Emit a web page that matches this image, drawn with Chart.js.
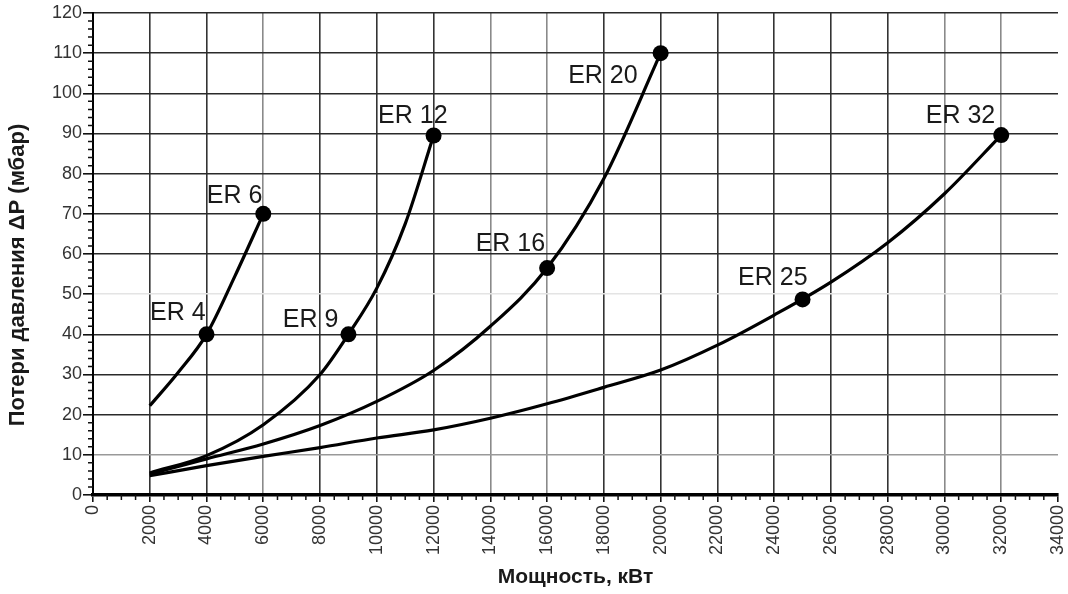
<!DOCTYPE html>
<html>
<head>
<meta charset="utf-8">
<script src="https://cdn.jsdelivr.net/npm/chart.js@4/dist/chart.umd.min.js"></script>
<style>
  html, body { margin: 0; padding: 0; background: #fff; }
  #wrap { width: 1068px; height: 594px; }
</style>
</head>
<body>
<div id="wrap"><canvas id="pressure"></canvas></div>
<script>
// ER 4 - ER 6
const curveA_power = [2000, 3000, 4000, 5000, 6000];
const curveA_loss = [22.2, 30.5, 40, 54.5, 70];
// ER 9 - ER 12
const curveB_power = [2000, 4000, 6000, 8000, 9000, 10000, 11000, 12000];
const curveB_loss = [5.5, 9.8, 17.5, 30, 40, 51.5, 67.5, 89.5];
// ER 16 - ER 20
const curveC_power = [2000, 4000, 6000, 8000, 10000, 12000, 14000, 16000, 18000, 20000];
const curveC_loss = [5.2, 9, 12.7, 17.3, 23.3, 31, 42, 56.5, 78.8, 110];
// ER 25 - ER 32
const curveD_power = [2000, 4000, 6000, 8000, 10000, 12000, 14000, 16000, 18000, 20000, 22000, 24000, 26000, 28000, 30000, 32000];
const curveD_loss = [4.8, 7.3, 9.6, 11.8, 14.2, 16.2, 19.1, 22.7, 26.8, 31.1, 37.3, 44.8, 53, 62.8, 75, 89.6];

// marked burners
const erNames = ['ER 4', 'ER 6', 'ER 9', 'ER 12', 'ER 16', 'ER 20', 'ER 25', 'ER 32'];
const erPower = [4000, 6000, 9000, 12000, 16000, 20000, 25000, 32000];
const erLoss = [40, 70, 40, 89.5, 56.5, 110, 48.7, 89.6];

const xTicks = [0, 2000, 4000, 6000, 8000, 10000, 12000, 14000, 16000, 18000, 20000, 22000, 24000, 26000, 28000, 30000, 32000, 34000];
const yTicks = [0, 10, 20, 30, 40, 50, 60, 70, 80, 90, 100, 110, 120];

const FONT = '"Liberation Sans", Arial, sans-serif';
const yTitle = 'Потери давления ΔP (мбар)';

const toPoints = (xs, ys) => xs.map((x, i) => ({ x: x, y: ys[i] }));

const curveStyle = {
  borderColor: '#000',
  borderWidth: 3.2,
  pointRadius: 0,
  fill: false,
  cubicInterpolationMode: 'monotone'
};

// label placement: right edge / baseline offset from the marker centre (px)
const labelOffsets = {
  'ER 4': [-1, -14], 'ER 6': [-1, -11], 'ER 9': [-10, -7], 'ER 12': [14, -13],
  'ER 16': [-2, -17], 'ER 20': [-23, 30], 'ER 25': [5, -14], 'ER 32': [-6, -12]
};

const erLabelPlugin = {
  id: 'erLabels',
  afterDatasetsDraw(chart) {
    const meta = chart.getDatasetMeta(4);
    const ctx = chart.ctx;
    ctx.save();
    ctx.font = '25px ' + FONT;
    ctx.fillStyle = '#1a1a1a';
    ctx.textAlign = 'right';
    ctx.textBaseline = 'alphabetic';
    meta.data.forEach((pt, i) => {
      const off = labelOffsets[erNames[i]];
      ctx.fillText(erNames[i], pt.x + off[0], pt.y + off[1]);
    });
    ctx.restore();
  }
};

// small ticks between the labelled ones + the y title
const extrasPlugin = {
  id: 'extras',
  afterDraw(chart) {
    const ctx = chart.ctx;
    const xs = chart.scales.x, ys = chart.scales.y;
    const area = chart.chartArea;
    ctx.save();
    ctx.strokeStyle = '#111';
    ctx.lineWidth = 1.5;
    ctx.beginPath();
    for (let v = 2; v < 120; v += 2) {
      if (v % 10 === 0) continue;
      const y = ys.getPixelForValue(v);
      ctx.moveTo(area.left - 5, y);
      ctx.lineTo(area.left, y);
    }
    for (let v = 500; v < 34000; v += 500) {
      if (v % 2000 === 0) continue;
      const x = xs.getPixelForValue(v);
      ctx.moveTo(x, area.bottom);
      ctx.lineTo(x, area.bottom + 5);
    }
    ctx.stroke();

    ctx.translate(18, 275);
    ctx.rotate(-Math.PI / 2);
    ctx.font = 'bold 22px ' + FONT;
    ctx.fillStyle = '#1a1a1a';
    ctx.textAlign = 'center';
    ctx.textBaseline = 'middle';
    ctx.fillText(yTitle, 0, 0);
    ctx.restore();
  }
};

const xGridColor = (c) => {
  const v = c.tick.value;
  if (v === 0 || v === 34000) return 'rgba(0,0,0,0)';
  if ([6000, 14000, 16000, 30000, 32000].includes(v)) return '#8a8a8a';
  return '#333';
};
const yGridColor = (c) => {
  const v = c.tick.value;
  if (v === 0) return 'rgba(0,0,0,0)';
  if (v === 50) return '#e4e4e4';
  if (v === 10) return '#999';
  return '#2a2a2a';
};

const tickFont = { family: FONT, size: 18 };

new Chart(document.getElementById('pressure'), {
  type: 'line',
  data: {
    datasets: [
      Object.assign({ data: toPoints(curveA_power, curveA_loss) }, curveStyle),
      Object.assign({ data: toPoints(curveB_power, curveB_loss) }, curveStyle),
      Object.assign({ data: toPoints(curveC_power, curveC_loss) }, curveStyle),
      Object.assign({ data: toPoints(curveD_power, curveD_loss) }, curveStyle),
      {
        type: 'scatter',
        data: toPoints(erPower, erLoss),
        showLine: false,
        pointRadius: 8,
        pointBackgroundColor: '#000',
        pointBorderColor: '#000',
        pointBorderWidth: 0
      }
    ]
  },
  options: {
    responsive: true,
    maintainAspectRatio: false,
    animation: false,
    layout: { padding: { top: 13, right: 10, left: 0, bottom: 0 } },
    plugins: { legend: { display: false }, tooltip: { enabled: false } },
    scales: {
      x: {
        type: 'linear',
        min: 0,
        max: 34000,
        afterBuildTicks: (s) => { s.ticks = xTicks.map(v => ({ value: v })); },
        afterFit: (s) => { s.height = 99; s.paddingLeft = 0; s.paddingRight = 0; },
        grid: { color: xGridColor, lineWidth: 1.6, tickColor: '#111', tickLength: 7, drawTicks: true },
        border: { display: true, color: '#000', width: 3.5 },
        ticks: {
          autoSkip: false,
          minRotation: 90,
          maxRotation: 90,
          padding: 3,
          color: '#333',
          font: tickFont,
          callback: (v) => String(v)
        },
        title: {
          display: true,
          text: 'Мощность, кВт',
          color: '#1a1a1a',
          font: { family: FONT, size: 21, weight: 'bold' },
          padding: { top: 0, bottom: 4 }
        }
      },
      y: {
        min: 0,
        max: 120,
        afterBuildTicks: (s) => { s.ticks = yTicks.map(v => ({ value: v })); },
        afterFit: (s) => { s.width = 93; s.paddingTop = 0; s.paddingBottom = 0; },
        grid: { color: yGridColor, lineWidth: 1.6, tickColor: '#111', tickLength: 10, drawTicks: true },
        border: { display: true, color: '#000', width: 2 },
        ticks: { padding: 1, color: '#333', font: tickFont },
        title: { display: false }
      }
    }
  },
  plugins: [erLabelPlugin, extrasPlugin]
});
</script>
</body>
</html>
